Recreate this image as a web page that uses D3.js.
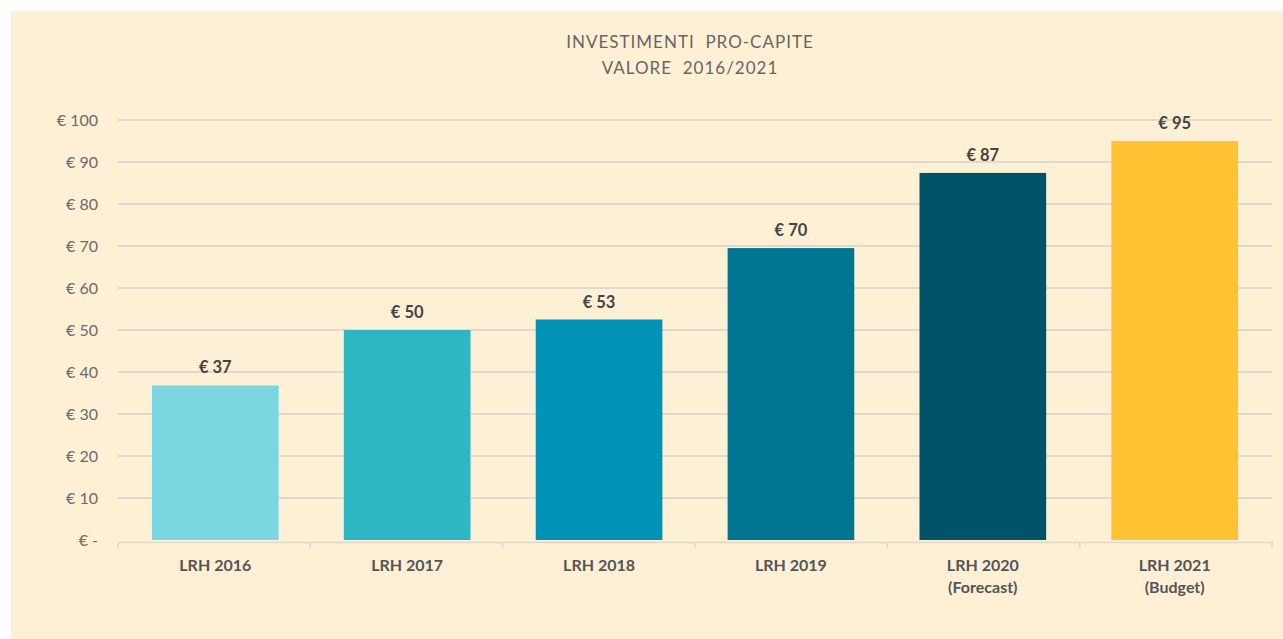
<!DOCTYPE html>
<html>
<head>
<meta charset="utf-8">
<script src="https://cdn.jsdelivr.net/npm/d3@7"></script>
<style>
  body { margin: 0; background: #fff; }
  svg { display: block; }
  text { font-family: "Lato", "DejaVu Sans", sans-serif; }
</style>
</head>
<body>
<svg width="1283" height="639"></svg>
<script>
// chart data
var categories = ["LRH 2016", "LRH 2017", "LRH 2018", "LRH 2019", "LRH 2020|(Forecast)", "LRH 2021|(Budget)"];
var values = [36.8, 50, 52.5, 69.5, 87.4, 95];
var barColors = ["#7AD7E2", "#2DB7C5", "#0093B6", "#007592", "#005366", "#FEC233"];
var yTicks = [0, 10, 20, 30, 40, 50, 60, 70, 80, 90, 100];
var titleLines = ["INVESTIMENTI  PRO-CAPITE", "VALORE  2016/2021"];

var svg = d3.select("svg"),
    width = +svg.attr("width"),
    height = +svg.attr("height");

// cream panel
svg.append("rect")
    .attr("x", 11).attr("y", 11)
    .attr("width", width - 11).attr("height", height - 11)
    .attr("fill", "#FDF0D4");

var margin = {left: 118, right: 11, top: 120, bottom: 99};

var x = d3.scaleBand()
    .domain(categories)
    .range([margin.left, width - margin.right])
    .paddingInner(0.34)
    .paddingOuter(0.177);

var y = d3.scaleLinear()
    .domain([0, 100])
    .range([height - margin.bottom, margin.top]);

// gridlines
svg.append("g")
    .selectAll("line")
    .data(yTicks.filter(d => d > 0))
    .join("line")
    .attr("x1", margin.left).attr("x2", width - margin.right)
    .attr("y1", d => y(d)).attr("y2", d => y(d))
    .attr("stroke", "#D6D3CC").attr("stroke-width", 1.5);

// y labels
svg.append("g")
    .selectAll("text")
    .data(yTicks)
    .join("text")
    .attr("x", 98)
    .attr("y", d => y(d))
    .attr("dy", "0.35em")
    .attr("text-anchor", "end")
    .attr("fill", "#6B6B6B")
    .style("font-size", "16px")
    .text(d => d == 0 ? "€ -" : "€ " + d);

// bars
svg.append("g")
    .selectAll("rect")
    .data(values)
    .join("rect")
    .attr("x", (d, i) => x(categories[i]))
    .attr("y", d => y(d))
    .attr("width", x.bandwidth())
    .attr("height", d => y(0) - y(d))
    .attr("fill", (d, i) => barColors[i]);

// x axis line + ticks
var xAxis = d3.axisBottom(x).tickSize(0).tickFormat("");
var gx = svg.append("g")
    .attr("transform", "translate(0," + (y(0) + 2) + ")")
    .call(xAxis);
gx.select(".domain").attr("stroke", "#DCD8CF").attr("stroke-width", 1.5);
var step = (width - margin.right - margin.left) / categories.length;
gx.selectAll(".sep")
    .data(d3.range(categories.length + 1))
    .join("line")
    .attr("class", "sep")
    .attr("x1", i => margin.left + i * step).attr("x2", i => margin.left + i * step)
    .attr("y1", 0).attr("y2", 6)
    .attr("stroke", "#DCD8CF").attr("stroke-width", 1.5);

// category labels
var lab = svg.append("g")
    .selectAll("text")
    .data(categories)
    .join("text")
    .attr("x", d => x(d) + x.bandwidth() / 2)
    .attr("y", 571)
    .attr("text-anchor", "middle")
    .attr("fill", "#555555")
    .style("font-size", "16px")
    .style("font-weight", "bold");
lab.selectAll("tspan")
    .data(d => d.split("|"))
    .join("tspan")
    .attr("x", function() { return this.parentNode.getAttribute("x"); })
    .attr("dy", (d, i) => i == 0 ? 0 : 22)
    .text(d => d);

// value labels
svg.append("g")
    .selectAll("text")
    .data(values)
    .join("text")
    .attr("x", (d, i) => x(categories[i]) + x.bandwidth() / 2)
    .attr("y", d => y(d) - 12)
    .attr("text-anchor", "middle")
    .attr("fill", "#444444")
    .style("font-size", "16.5px")
    .style("font-weight", "bold")
    .text(d => "€ " + Math.round(d));

// title
svg.append("g")
    .selectAll("text")
    .data(titleLines)
    .join("text")
    .attr("x", 690)
    .attr("y", (d, i) => 48 + i * 26)
    .attr("text-anchor", "middle")
    .attr("fill", "#666666")
    .style("font-size", "17px")
    .style("letter-spacing", "1px")
    .style("white-space", "pre")
    .text(d => d);
</script>
</body>
</html>
